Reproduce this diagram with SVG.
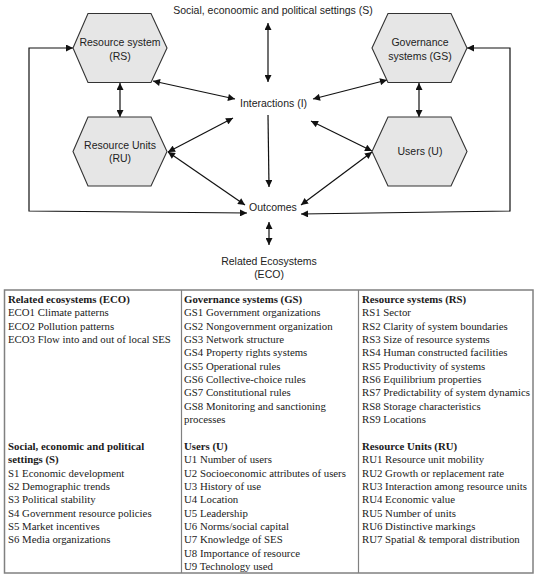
<svg xmlns="http://www.w3.org/2000/svg" width="549" height="581" viewBox="0 0 549 581">
<defs>
<marker id="ah" viewBox="0 0 10 10" refX="10" refY="5" markerWidth="8" markerHeight="7" markerUnits="userSpaceOnUse" orient="auto-start-reverse">
<path d="M0,0 L10,5 L0,10 Z" fill="#111"/>
</marker>
<style>
.hex{fill:#e6e6e6;stroke:#333;stroke-width:1.1}
.lbl{font-family:"Liberation Sans",Arial,sans-serif;font-size:10.5px;fill:#222}
.c{text-anchor:middle}
.con{fill:none;stroke:#111;stroke-width:1.2}
.bi{marker-start:url(#ah);marker-end:url(#ah)}
.one{marker-end:url(#ah)}
.tb{font-family:"Liberation Serif","Times New Roman",serif;font-size:10.8px;fill:#1a1a1a}
.b{font-weight:bold}
.frame{fill:#fff;stroke:#808080;stroke-width:1.5}
.col{stroke:#808080;stroke-width:1.2}
</style>
</defs>
<rect width="549" height="581" fill="#fff"/>

<g id="connectors">
<line class="con bi" x1="268" y1="23" x2="268" y2="82"/>
<line class="con bi" x1="153" y1="81" x2="235" y2="99"/>
<line class="con bi" x1="387" y1="80" x2="313" y2="99"/>
<line class="con bi" x1="120" y1="83" x2="120" y2="117"/>
<line class="con bi" x1="419" y1="83" x2="419" y2="117"/>
<line class="con bi" x1="168" y1="152" x2="233" y2="118"/>
<line class="con bi" x1="168" y1="152" x2="245" y2="205"/>
<line class="con bi" x1="372" y1="151" x2="311" y2="121"/>
<line class="con bi" x1="372" y1="152" x2="301" y2="205"/>
<line class="con one" x1="268" y1="115" x2="269" y2="187"/>
<line class="con bi" x1="269" y1="222" x2="269" y2="245"/>
<path class="con bi" d="M73,48 H29 V211 L247,213"/>
<path class="con bi" d="M467,48 H510 V211 L301,214"/>
</g>

<g id="S">
<text class="lbl c" x="273" y="13.5">Social, econoomic and political settings (S)</text>
</g>
<g id="RS">
<polygon class="hex" points="88,13.5 151,13.5 167,48 151,82.5 88,82.5 73,48"/>
<text class="lbl c" x="120" y="45.5">Resource system</text>
<text class="lbl c" x="120" y="59.5">(RS)</text>
</g>
<g id="GS">
<polygon class="hex" points="388,13.5 451,13.5 467,48 451,82.5 388,82.5 372,48"/>
<text class="lbl c" x="420" y="45.5">Governance</text>
<text class="lbl c" x="420" y="59.5">systems (GS)</text>
</g>
<g id="RU">
<polygon class="hex" points="88,117 151,117 167,151.5 151,186 88,186 73,151.5"/>
<text class="lbl c" x="120" y="149">Resource Units</text>
<text class="lbl c" x="120" y="162">(RU)</text>
</g>
<g id="U">
<polygon class="hex" points="388,117 451,117 467,151.5 451,186 388,186 372,151.5"/>
<text class="lbl c" x="420" y="155">Users (U)</text>
</g>
<g id="I">
<text class="lbl" x="240" y="107">Interactions (I)</text>
</g>
<g id="O">
<text class="lbl" x="249" y="211">Outcomes</text>
</g>
<g id="ECO">
<text class="lbl c" x="269" y="265">Related Ecosystems</text>
<text class="lbl c" x="269" y="278">(ECO)</text>
</g>

<g id="table">
<rect class="frame" x="4.5" y="290" width="528.5" height="283"/>
<line class="col" x1="181.5" y1="290" x2="181.5" y2="573"/>
<line class="col" x1="358.5" y1="290" x2="358.5" y2="573"/>
<g class="tb">
<text x="8" y="303" class="b">Related ecosystems (ECO)</text>
<text x="8" y="316.35">ECO1 Climate patterns</text>
<text x="8" y="329.7">ECO2 Pollution patterns</text>
<text x="8" y="343.05">ECO3 Flow into and out of local SES</text>
<text x="8" y="449.85" class="b">Social, economic and political</text>
<text x="8" y="463.2" class="b">settings (S)</text>
<text x="8" y="476.55">S1 Economic development</text>
<text x="8" y="489.9">S2 Demographic trends</text>
<text x="8" y="503.25">S3 Political stability</text>
<text x="8" y="516.6">S4 Government resource policies</text>
<text x="8" y="529.95">S5 Market incentives</text>
<text x="8" y="543.3">S6 Media organizations</text>

<text x="184" y="303" class="b">Governance systems (GS)</text>
<text x="184" y="316.35">GS1 Government organizations</text>
<text x="184" y="329.7">GS2 Nongovernment organization</text>
<text x="184" y="343.05">GS3 Network structure</text>
<text x="184" y="356.4">GS4 Property rights systems</text>
<text x="184" y="369.75">GS5 Operational rules</text>
<text x="184" y="383.1">GS6 Collective-choice rules</text>
<text x="184" y="396.45">GS7 Constitutional rules</text>
<text x="184" y="409.8">GS8 Monitoring and sanctioning</text>
<text x="184" y="423.15">processes</text>
<text x="184" y="449.85" class="b">Users (U)</text>
<text x="184" y="463.2">U1 Number of users</text>
<text x="184" y="476.55">U2 Socioeconomic attributes of users</text>
<text x="184" y="489.9">U3 History of use</text>
<text x="184" y="503.25">U4 Location</text>
<text x="184" y="516.6">U5 Leadership</text>
<text x="184" y="529.95">U6 Norms/social capital</text>
<text x="184" y="543.3">U7 Knowledge of SES</text>
<text x="184" y="556.65">U8 Importance of resource</text>
<text x="184" y="570">U9 Technology used</text>

<text x="362" y="303" class="b">Resource systems (RS)</text>
<text x="362" y="316.35">RS1 Sector</text>
<text x="362" y="329.7">RS2 Clarity of system boundaries</text>
<text x="362" y="343.05">RS3 Size of resource systems</text>
<text x="362" y="356.4">RS4 Human constructed facilities</text>
<text x="362" y="369.75">RS5 Productivity of systems</text>
<text x="362" y="383.1">RS6 Equilibrium properties</text>
<text x="362" y="396.45">RS7 Predictability of system dynamics</text>
<text x="362" y="409.8">RS8 Storage characteristics</text>
<text x="362" y="423.15">RS9 Locations</text>
<text x="362" y="449.85" class="b">Resource Units (RU)</text>
<text x="362" y="463.2">RU1 Resource unit mobility</text>
<text x="362" y="476.55">RU2 Growth or replacement rate</text>
<text x="362" y="489.9">RU3 Interaction among resource units</text>
<text x="362" y="503.25">RU4 Economic value</text>
<text x="362" y="516.6">RU5 Number of units</text>
<text x="362" y="529.95">RU6 Distinctive markings</text>
<text x="362" y="543.3">RU7 Spatial &amp; temporal distribution</text>
</g>
</g>
</svg>
